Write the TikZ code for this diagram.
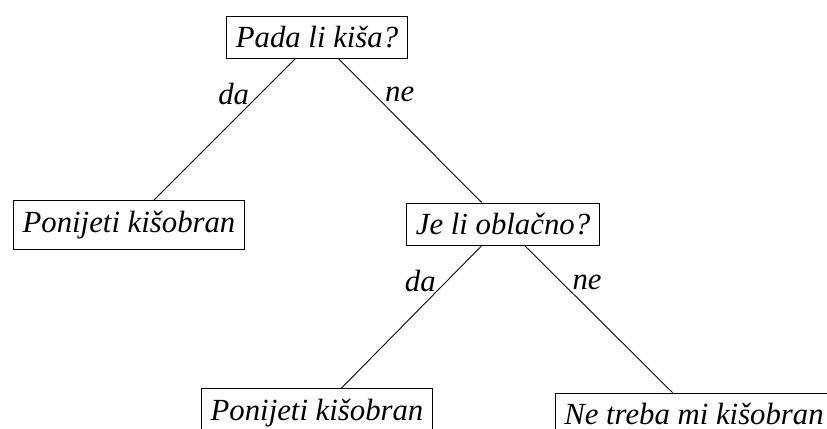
\documentclass[tikz,border=0pt]{standalone}
\usepackage{fontspec}
\setmainfont{Liberation Serif}
\usepackage{tikz}

\begin{document}
\begin{tikzpicture}[scale=0.5]
  \useasboundingbox (0,0) rectangle (33.08,17.12);
  \tikzset{QuestionStyle/.style = {rectangle,
                                   draw,
                                   font = \fontsize{17.5}{21}\selectfont\itshape,
                                   inner xsep = 5.3pt,
                                   inner ysep = 5.8pt}}

  \tikzset{AnswerStyle/.style = {QuestionStyle}}

  \tikzset{EdgeStyle/.style   = {line width = 0.5pt}}

  \tikzset{LabelStyle/.style  = {font = \fontsize{17.5}{21}\selectfont\itshape,
                                 inner sep = 6pt}}

     \node[QuestionStyle](Q_1) at (12.68,15.64) {Pada li kiša?};
     \node[AnswerStyle]  (A_1) at (5.16,8.12)   {Ponijeti kišobran};
     \node[QuestionStyle](Q_2) at (20.12,8.16)  {Je li oblačno?};
     \node[AnswerStyle]  (A_2) at (12.68,0.6)   {Ponijeti kišobran};
     \node[AnswerStyle]  (A_3) at (27.76,0.56)  {Ne treba mi kišobran};

     \draw[EdgeStyle](Q_1) to node[LabelStyle,left,pos=0.25]{da} (A_1);
     \draw[EdgeStyle](Q_1) to node[LabelStyle,right,pos=0.25]{ne} (Q_2);
     \draw[EdgeStyle](Q_2) to node[LabelStyle,left,pos=0.25]{da} (A_2);
     \draw[EdgeStyle](Q_2) to node[LabelStyle,right,pos=0.25]{ne} (A_3);

\end{tikzpicture}
\end{document}
